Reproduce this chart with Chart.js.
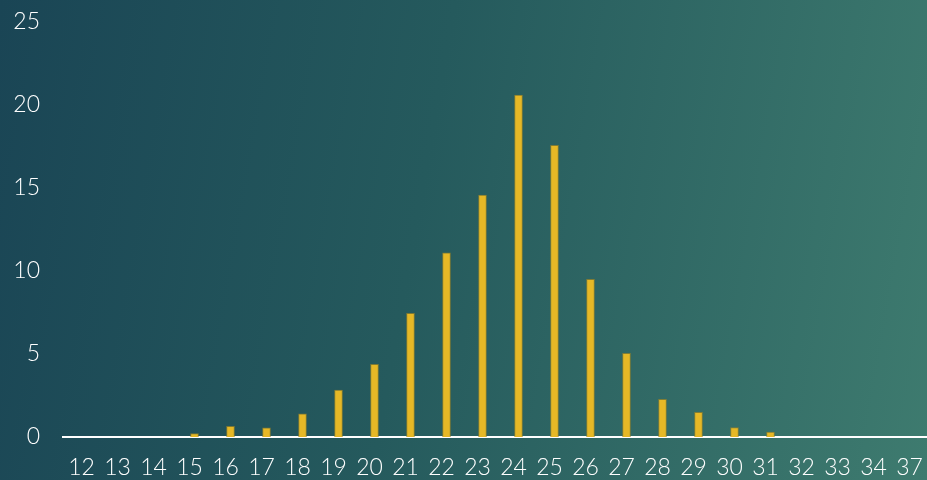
<!DOCTYPE html>
<html>
<head>
<meta charset="utf-8">
<script src="https://cdn.jsdelivr.net/npm/chart.js@4"></script>
<style>
    html, body {
        margin: 0;
        padding: 0;
        width: 927px;
        height: 480px;
        overflow: hidden;
        background: linear-gradient(100deg, #1a4555 0%, #255a5d 45%, #3e7b6f 100%);
    }
    #wrap { position: relative; width: 927px; height: 480px; }
</style>
</head>
<body>
<div id="wrap"><canvas id="dist"></canvas></div>
<script>
    // Data
    const categories = ["12", "13", "14", "15", "16", "17", "18", "19", "20", "21", "22", "23",
        "24", "25", "26", "27", "28", "29", "30", "31", "32", "33", "34", "37"];
    const values = [0, 0, 0, 0.2, 0.65, 0.55, 1.4, 2.83, 4.38, 7.45, 11.1, 14.58,
        20.6, 17.57, 9.5, 5.04, 2.27, 1.49, 0.56, 0.3, 0, 0, 0, 0];
    const yTicks = [0, 5, 10, 15, 20, 25];

    const textColor = "#ffffff";
    const font = { family: "Lato, 'Open Sans', sans-serif", size: 23, weight: 300 };

    new Chart(document.getElementById("dist"), {
        type: "bar",
        data: {
            datasets: [
                {
                    data: values.map((v, i) => ({ x: i, y: v })),
                    backgroundColor: "#e6b826",
                    borderColor: "rgba(150,130,40,.8)",
                    borderWidth: 1,
                    barThickness: 8,
                },
            ],
        },
        options: {
            responsive: true,
            maintainAspectRatio: false,
            animation: false,
            layout: { padding: { top: 22, right: 0, left: 0, bottom: 0 } },
            plugins: {
                legend: { display: false },
                tooltip: { enabled: false },
            },
            scales: {
                x: {
                    type: "linear",
                    offset: false,
                    min: -0.653,
                    max: 23.347,
                    grid: { display: false, drawTicks: false },
                    border: { display: true, color: "#ffffff", width: 2 },
                    afterBuildTicks: (scale) => {
                        scale.ticks = categories.map((c, i) => ({ value: i }));
                    },
                    ticks: {
                        autoSkip: false,
                        maxRotation: 0,
                        labelOffset: -5,
                        padding: 17,
                        color: textColor,
                        font,
                        callback: (v) => categories[v] ?? "",
                    },
                    afterFit: (scale) => {
                        scale.height = 43;
                        scale.paddingLeft = 0;
                        scale.paddingRight = 0;
                    },
                },
                y: {
                    min: 0,
                    max: 25,
                    grid: { display: false, drawTicks: false },
                    border: { display: false },
                    afterBuildTicks: (scale) => {
                        scale.ticks = yTicks.map((v) => ({ value: v }));
                    },
                    ticks: {
                        padding: 23,
                        color: textColor,
                        font,
                    },
                    afterFit: (scale) => {
                        scale.width = 63;
                        scale.paddingTop = 0;
                        scale.paddingBottom = 0;
                    },
                },
            },
        },
    });
</script>
</body>
</html>
